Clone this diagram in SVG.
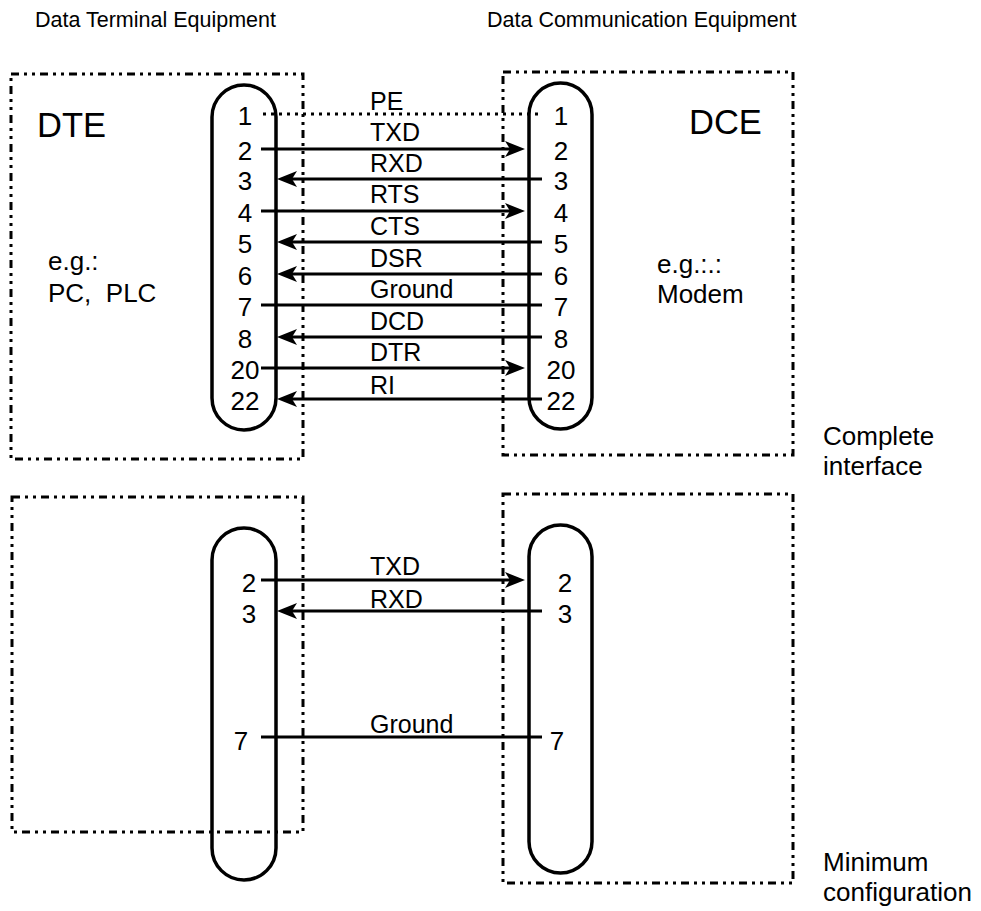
<svg xmlns="http://www.w3.org/2000/svg" width="981" height="911" viewBox="0 0 981 911">
<defs>
<marker id="arr" viewBox="0 0 20 16" refX="14" refY="8" markerWidth="20" markerHeight="16" markerUnits="userSpaceOnUse" orient="auto">
<path d="M0,0 L20,8 L0,16 L5,8 Z" fill="#000"/>
</marker>
<style>
.box{fill:none;stroke:#000;stroke-width:3;stroke-dasharray:8 5 3 5 3 5}
.pill{fill:none;stroke:#000;stroke-width:3.5}
.w{stroke:#000;stroke-width:3;fill:none}
.a{marker-end:url(#arr)}
.dot{stroke:#000;stroke-width:3;stroke-dasharray:3 5;fill:none}
text{font-family:"Liberation Sans",Arial,sans-serif;fill:#000}
.t{font-size:21.5px}
.big{font-size:34.5px}
.m{font-size:26px}
.n{font-size:26px;text-anchor:middle}
.l{font-size:25px}
</style>
</defs>
<rect width="981" height="911" fill="#fff"/>

<text class="t" x="35" y="27">Data Terminal Equipment</text>
<text class="t" x="487" y="27">Data Communication Equipment</text>

<g id="dte-top">
<rect class="box" x="11" y="74" width="292" height="385"/>
<text class="big" x="37" y="137">DTE</text>
<text class="m" x="48" y="270">e.g.:</text>
<text class="m" x="48" y="302">PC,&#160; PLC</text>
</g>
<g id="dce-top">
<rect class="box" x="503" y="72" width="290" height="383"/>
<text class="big" x="689" y="134">DCE</text>
<text class="m" x="657" y="273">e.g.:.:</text>
<text class="m" x="657" y="303">Modem</text>
</g>
<g id="conn-dte-top">
<rect class="pill" x="212" y="85" width="64" height="345" rx="32" ry="32"/>
<g class="n">
<text x="245" y="125">1</text><text x="245" y="160">2</text><text x="245" y="190">3</text>
<text x="245" y="222">4</text><text x="245" y="253">5</text><text x="245" y="285">6</text>
<text x="245" y="316">7</text><text x="245" y="348">8</text><text x="245" y="379">20</text>
<text x="245" y="410">22</text>
</g>
</g>
<g id="conn-dce-top">
<rect class="pill" x="529" y="83" width="63" height="346" rx="31.5" ry="31.5"/>
<g class="n">
<text x="561" y="125">1</text><text x="561" y="160">2</text><text x="561" y="190">3</text>
<text x="561" y="222">4</text><text x="561" y="253">5</text><text x="561" y="285">6</text>
<text x="561" y="316">7</text><text x="561" y="348">8</text><text x="561" y="379">20</text>
<text x="561" y="410">22</text>
</g>
</g>
<text class="m" x="823" y="445">Complete</text>
<text class="m" x="823" y="475">interface</text>

<g id="dte-bottom">
<rect class="box" x="12" y="497" width="291" height="335"/>
</g>
<g id="dce-bottom">
<rect class="box" x="503" y="494" width="290" height="389"/>
</g>
<g id="conn-dte-bottom">
<rect class="pill" x="212" y="528" width="64" height="352" rx="32" ry="32"/>
<g class="n">
<text x="249" y="592">2</text><text x="249" y="623">3</text><text x="241" y="750">7</text>
</g>
</g>
<g id="conn-dce-bottom">
<rect class="pill" x="529" y="525" width="63" height="348" rx="31.5" ry="31.5"/>
<g class="n">
<text x="565" y="592">2</text><text x="565" y="623">3</text><text x="557" y="750">7</text>
</g>
</g>
<text class="m" x="823" y="871">Minimum</text>
<text class="m" x="823" y="901">configuration</text>

<g id="connectors">
<line class="dot" x1="263" y1="114" x2="543" y2="114"/>
<line class="w a" x1="261" y1="149" x2="519" y2="149"/>
<line class="w a" x1="542" y1="179" x2="283" y2="179"/>
<line class="w a" x1="261" y1="211" x2="519" y2="211"/>
<line class="w a" x1="542" y1="242" x2="283" y2="242"/>
<line class="w a" x1="542" y1="274" x2="283" y2="274"/>
<line class="w" x1="261" y1="305" x2="542" y2="305"/>
<line class="w a" x1="542" y1="337" x2="283" y2="337"/>
<line class="w a" x1="261" y1="368" x2="519" y2="368"/>
<line class="w a" x1="542" y1="399" x2="283" y2="399"/>
<line class="w a" x1="261" y1="580" x2="519" y2="580"/>
<line class="w a" x1="542" y1="611" x2="283" y2="611"/>
<line class="w" x1="261" y1="737" x2="542" y2="737"/>
<g class="l">
<text x="370" y="110">PE</text>
<text x="370" y="141">TXD</text>
<text x="370" y="172">RXD</text>
<text x="370" y="203">RTS</text>
<text x="370" y="235">CTS</text>
<text x="370" y="267">DSR</text>
<text x="370" y="298">Ground</text>
<text x="370" y="330">DCD</text>
<text x="370" y="361">DTR</text>
<text x="370" y="394">RI</text>
<text x="370" y="575">TXD</text>
<text x="370" y="608">RXD</text>
<text x="370" y="733">Ground</text>
</g>
</g>
</svg>
